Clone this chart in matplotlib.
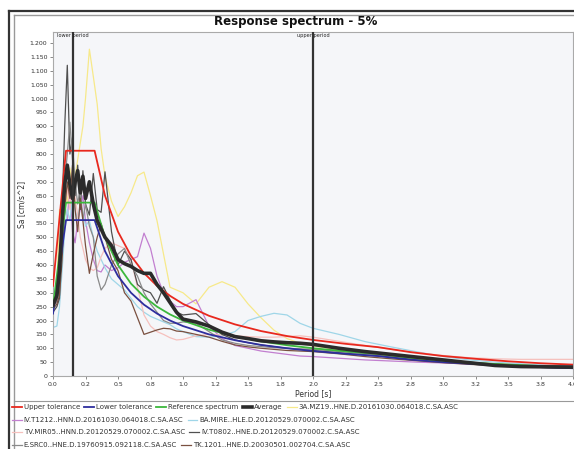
import matplotlib
matplotlib.use("Agg")
import matplotlib.pyplot as plt
from matplotlib.lines import Line2D
from matplotlib.ticker import FuncFormatter

# ---------------- data ----------------
T_ref = [0.0, 0.1, 0.32, 0.4, 0.5, 0.6, 0.7, 0.8, 0.9, 1.0, 1.2, 1.4, 1.6, 1.8,
         2.0, 2.25, 2.5, 2.75, 3.0, 3.25, 3.5, 3.75, 4.0]
reference = [250, 625, 625, 500, 400, 333, 286, 250, 222, 200, 167, 143, 125, 111,
             100, 89, 80, 66, 56, 47, 41, 36, 31]
upper_tol = [325, 812, 812, 650, 520, 433, 371, 325, 289, 260, 217, 186, 162, 144,
             130, 116, 104, 86, 72, 62, 53, 46, 41]
lower_tol = [225, 562, 562, 450, 360, 300, 257, 225, 200, 180, 150, 129, 112, 100,
             90, 80, 72, 59, 50, 43, 37, 32, 28]

T = [0.0, 0.03, 0.05, 0.07, 0.09, 0.11, 0.13, 0.15, 0.17, 0.19, 0.21, 0.23, 0.25,
     0.28, 0.31, 0.34, 0.37, 0.40, 0.45, 0.50, 0.55, 0.60, 0.65, 0.70, 0.75, 0.80,
     0.85, 0.90, 0.95, 1.0, 1.1, 1.2, 1.3, 1.4, 1.5, 1.6, 1.7, 1.8, 1.9, 2.0, 2.2,
     2.4, 2.6, 2.8, 3.0, 3.2, 3.4, 3.6, 3.8, 4.0]

average = [255, 290, 380, 560, 690, 760, 690, 640, 700, 740, 660, 720, 640, 700, 620,
           560, 530, 500, 470, 420, 405, 395, 380, 370, 370, 330, 300, 265, 230, 205,
           195, 180, 158, 142, 135, 127, 123, 120, 118, 114, 100, 88, 78, 68, 58, 48,
           38, 34, 33, 32]
mz19 = [250, 300, 600, 550, 700, 620, 750, 680, 720, 780, 840, 900, 1000, 1178, 1080,
        980, 820, 720, 630, 575, 610, 660, 722, 735, 650, 560, 440, 320, 310, 300, 260,
        320, 340, 320, 260, 210, 165, 135, 118, 108, 95, 82, 72, 62, 54, 48, 44, 40,
        38, 36]
t1212 = [250, 270, 350, 500, 620, 560, 700, 520, 480, 560, 600, 650, 560, 480, 420,
         380, 375, 400, 380, 390, 410, 420, 430, 515, 460, 360, 300, 270, 250, 250, 275,
         180, 135, 110, 100, 90, 84, 78, 72, 70, 64, 58, 54, 50, 47, 44, 42, 40, 38, 37]
mire = [175, 180, 250, 380, 520, 600, 560, 640, 600, 560, 620, 590, 540, 560, 500, 450,
        420, 390, 350, 330, 310, 280, 250, 230, 215, 205, 195, 185, 170, 160, 142, 140,
        145, 160, 200, 215, 226, 220, 190, 172, 150, 124, 105, 87, 70, 58, 50, 44, 38, 34]
mir05 = [250, 280, 400, 520, 600, 680, 600, 720, 640, 580, 500, 460, 420, 390, 380, 390,
         430, 460, 480, 470, 460, 420, 320, 220, 180, 160, 150, 138, 130, 132, 145, 150,
         148, 145, 142, 140, 140, 142, 145, 140, 125, 110, 96, 84, 74, 66, 62, 60, 60, 60]
t0802 = [230, 250, 280, 600, 900, 1120, 800, 860, 650, 760, 600, 740, 620, 580, 730,
         600, 590, 736, 520, 400, 450, 420, 330, 310, 300, 262, 322, 274, 230, 220, 225,
         185, 150, 130, 120, 112, 106, 100, 96, 92, 84, 76, 68, 60, 54, 48, 42, 38, 36, 34]
src0 = [250, 270, 320, 520, 700, 800, 915, 780, 700, 620, 680, 560, 620, 540, 500, 360,
        310, 330, 400, 440, 460, 400, 360, 300, 260, 230, 200, 190, 190, 195, 190, 160,
        130, 118, 110, 106, 102, 100, 98, 96, 88, 80, 70, 62, 56, 50, 44, 40, 36, 34]
tk1201 = [240, 260, 290, 420, 600, 700, 640, 760, 600, 520, 640, 560, 470, 370, 440, 500,
          550, 500, 420, 380, 300, 270, 210, 150, 158, 166, 172, 170, 162, 160, 150, 140,
          125, 112, 105, 100, 96, 92, 90, 88, 80, 70, 62, 55, 48, 42, 38, 34, 30, 28]

lower_period = 0.15
upper_period = 2.0

x_ticks = [0.0, 0.25, 0.5, 0.75, 1.0, 1.25, 1.5, 1.75, 2.0, 2.25, 2.5, 2.75, 3.0,
           3.25, 3.5, 3.75, 4.0]
x_tick_labels = ["0.0", "0.2", "0.5", "0.8", "1.0", "1.2", "1.5", "1.8", "2.0", "2.2",
                 "2.5", "2.8", "3.0", "3.2", "3.5", "3.8", "4.0"]

records = [
    ("3A.MZ19..HNE.D.20161030.064018.C.SA.ASC", mz19, "#f7e98a"),
    ("IV.T1212..HNN.D.20161030.064018.C.SA.ASC", t1212, "#c27fd0"),
    ("BA.MIRE..HLE.D.20120529.070002.C.SA.ASC", mire, "#9fd6e8"),
    ("TV.MIR05..HNN.D.20120529.070002.C.SA.ASC", mir05, "#f6c0bd"),
    ("IV.T0802..HNE.D.20120529.070002.C.SA.ASC", t0802, "#505050"),
    ("E.SRC0..HNE.D.19760915.092118.C.SA.ASC", src0, "#8a8a8a"),
    ("TK.1201..HNE.D.20030501.002704.C.SA.ASC", tk1201, "#7a5040"),
]

# ---------------- figure ----------------
fig = plt.figure(figsize=(5.74, 4.49), dpi=100)
fig.patch.set_facecolor("white")
W, H = 574.0, 449.0

ax = fig.add_axes([53 / W, 1 - 376 / H, 520 / W, 344 / H])
ax.set_facecolor("#f5f6f9")

handles = []
for name, vals, col in records:
    ln, = ax.plot(T, vals, color=col, lw=0.9, zorder=2)
    handles.append((ln, name))

h_up, = ax.plot(T_ref, upper_tol, color="#e8281e", lw=1.3, zorder=4)
h_lo, = ax.plot(T_ref, lower_tol, color="#2e2e9e", lw=1.3, zorder=4)
h_ref, = ax.plot(T_ref, reference, color="#3cb83c", lw=1.3, zorder=4)
h_avg, = ax.plot(T, average, color="#2b2b2b", lw=2.6, zorder=5)

ax.axvline(lower_period, color="#333333", lw=1.6, zorder=6)
ax.axvline(upper_period, color="#333333", lw=1.6, zorder=6)

ax.set_xlim(0, 4.0)
ax.set_ylim(0, 1240)
ax.set_xticks(x_ticks)
ax.set_xticklabels(x_tick_labels)
ax.set_yticks(range(0, 1201, 50))
ax.yaxis.set_major_formatter(FuncFormatter(lambda v, p: f"{int(v):,}".replace(",", ".")))
ax.tick_params(axis="both", labelsize=4.5, length=2.5, width=0.6, color="#777777",
               labelcolor="#333333", pad=1.5)
for s in ax.spines.values():
    s.set_color("#aaaaaa")
    s.set_linewidth(0.8)

ax.text(lower_period, 1236, "lower period", ha="center", va="top", fontsize=3.6,
        color="#222222", zorder=7)
ax.text(upper_period, 1236, "upper period", ha="center", va="top", fontsize=3.6,
        color="#222222", zorder=7)

ax.set_xlabel("Period [s]", fontsize=5.5, color="#333333", labelpad=2)
ax.set_ylabel("Sa [cm/s^2]", fontsize=5.5, color="#333333", labelpad=3)

fig.text(296 / W, 1 - 22 / H, "Response spectrum - 5%", ha="center", va="center",
         fontsize=8.5, fontweight="bold", color="#111111")

# outer frame lines
fig.add_artist(Line2D([9 / W, 9 / W], [0, 1 - 11 / H], transform=fig.transFigure,
                      color="#333333", lw=1.6))
fig.add_artist(Line2D([13.5 / W, 13.5 / W], [0, 1 - 15 / H], transform=fig.transFigure,
                      color="#999999", lw=1.0))
fig.add_artist(Line2D([9 / W, 1], [1 - 11 / H, 1 - 11 / H], transform=fig.transFigure,
                      color="#333333", lw=1.6))
fig.add_artist(Line2D([13.5 / W, 1], [1 - 15 / H, 1 - 15 / H], transform=fig.transFigure,
                      color="#999999", lw=1.0))
fig.add_artist(Line2D([13.5 / W, 1], [1 - 401 / H, 1 - 401 / H], transform=fig.transFigure,
                      color="#999999", lw=0.8))

# legend rows
rows = [
    [(h_up, "Upper tolerance"), (h_lo, "Lower tolerance"), (h_ref, "Reference spectrum"),
     (h_avg, "Average"), handles[0]],
    [handles[1], handles[2]],
    [handles[3], handles[4]],
    [handles[5], handles[6]],
]
row_y = [407, 420, 432, 445]
for r, yc in zip(rows, row_y):
    leg = fig.legend([h for h, _ in r], [n for _, n in r], loc="center left",
                     bbox_to_anchor=(12 / W, 1 - yc / H), ncol=len(r), frameon=False,
                     fontsize=5, handlelength=1.4, handletextpad=0.3, columnspacing=0.6,
                     borderpad=0, borderaxespad=0)
    for t in leg.get_texts():
        t.set_color("#333333")

fig.savefig("out.png", dpi=100)
